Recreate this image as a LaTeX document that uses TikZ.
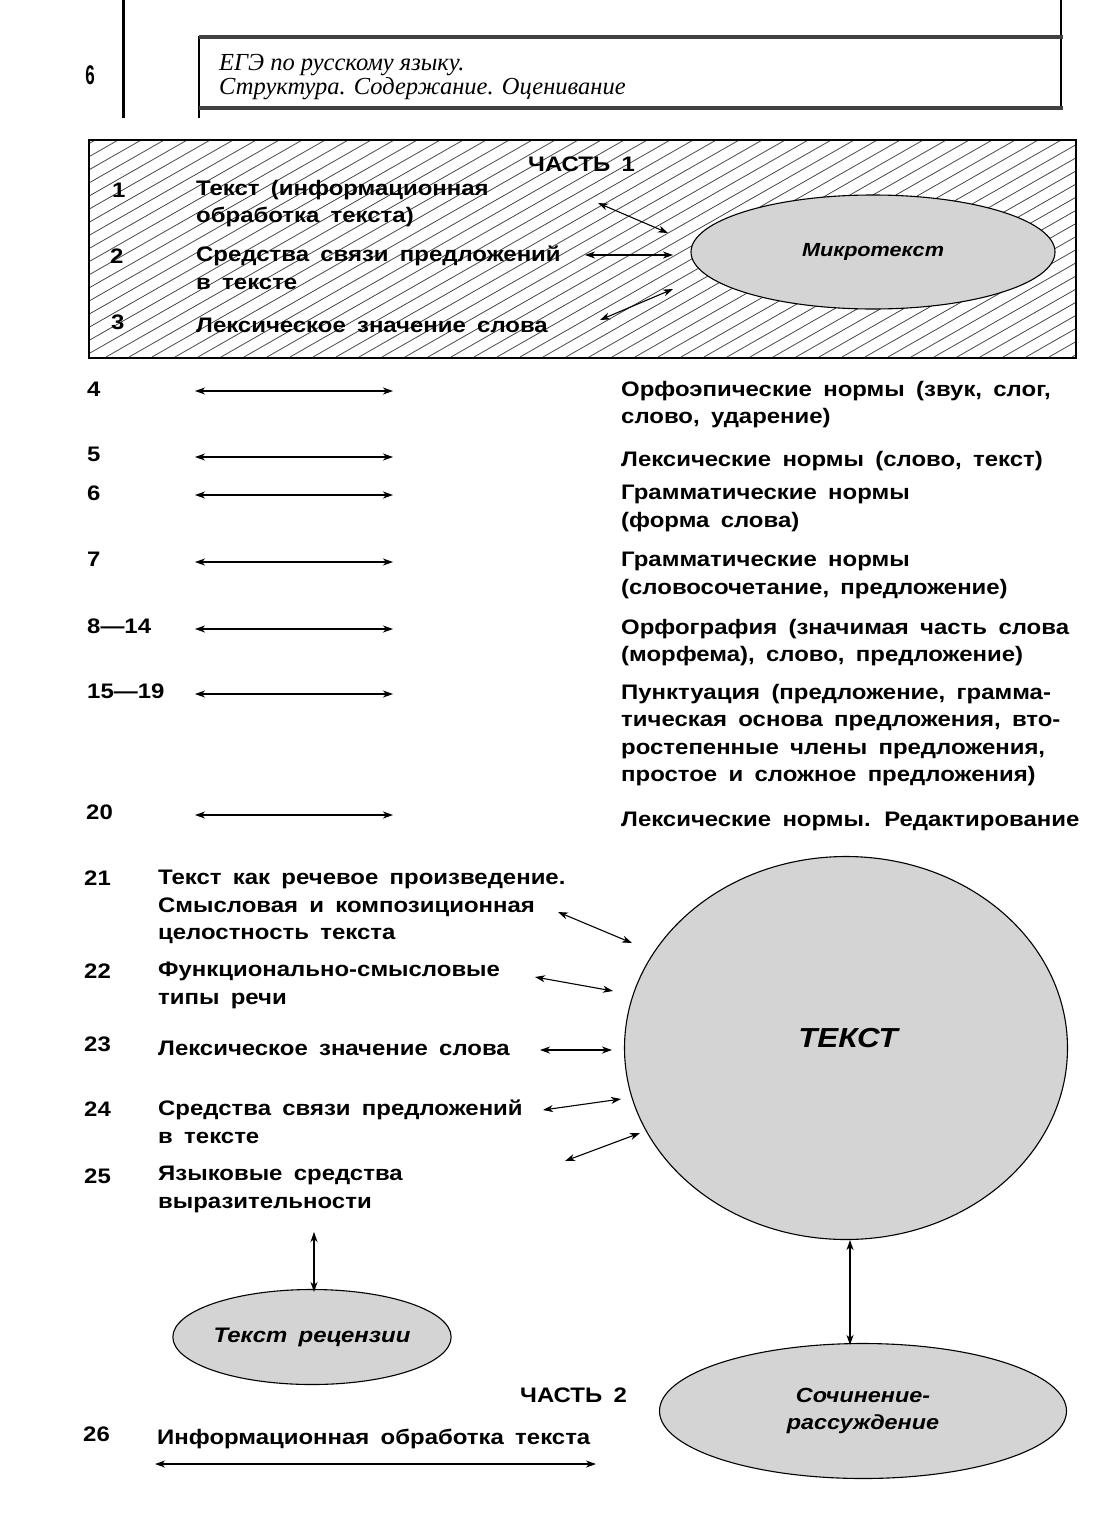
\documentclass[tikz,border=0pt]{standalone}
\usepackage{fontspec}
\setmainfont{Liberation Sans}[FakeStretch=1.14, WordSpace=1.7]
\newfontfamily\hdrfont{Liberation Serif}
\usetikzlibrary{arrows.meta,shapes.geometric}
\newcommand\fstrut{\rule{0pt}{20pt}}
\begin{document}
\begin{tikzpicture}[x=1pt,y=-1pt,
  txt/.style={font=\fontsize{21}{27.5}\selectfont\bfseries, inner sep=0pt, anchor=base west, align=left},
  ml/.style={txt, anchor=north west, yshift=18pt, execute at begin node=\fstrut},
  conn/.style={{Stealth[length=10pt,width=7pt,inset=3pt]}-{Stealth[length=10pt,width=7pt,inset=3pt]}, line width=1.1pt},
  oval/.style={ellipse, draw, line width=1.1pt, fill=black!17, inner sep=0pt, font=\bfseries\itshape, align=center},
  hatch/.style={line width=0.75pt, black!75},
]
\useasboundingbox (0,0) rectangle (1116,1520);
\fill[white] (0,0) rectangle (1116,1520);

% ---------- header ----------
\draw[line width=3pt] (123,0) -- (123,118);
\draw[line width=1.6pt] (199,36) -- (199,118);
\draw[line width=1.6pt] (1061,0) -- (1061,110);
\draw[line width=4pt, black!75] (199,37) -- (1063,37);
\draw[line width=4pt, black!75] (199,108) -- (1063,108);
\node[inner sep=0pt, font=\fontsize{27}{27}\selectfont\bfseries, xscale=0.55] (pagenum) at (90,75) {6};
\node[inner sep=0pt, anchor=north west, yshift=15pt, align=left, execute at begin node=\fstrut,
      font=\hdrfont\fontsize{24.5}{24}\selectfont\itshape] (hdr) at (219,69)
  {ЕГЭ по русскому языку.\\Структура. Содержание. Оценивание};

% ---------- part 1 hatched box ----------
\begin{scope}
  \clip (88,139) rectangle (1075,357);
  \foreach \k in {0,...,90} {
    \draw[hatch] ({-400+\k*23},357) -- ({-400+\k*23+382},139);
  }
\end{scope}
\node[draw, line width=1.8pt, minimum width=987pt, minimum height=218pt, anchor=north west, inner sep=0pt] (part1box) at (88,139) {};

\node[txt] (part1) at (528,171) {ЧАСТЬ 1};
\node[txt] (n1) at (112,197) {1};
\node[txt] (n2) at (110,263) {2};
\node[txt] (n3) at (111,329) {3};
\node[ml] (t1) at (196,198) {Текст (информационная\\обработка текста)};
\node[ml] (t2) at (196,264) {Средства связи предложений\\в тексте};
\node[ml] (t3) at (196,330) {Лексическое значение слова};
\node[oval, minimum width=364pt, minimum height=114pt, font=\fontsize{19}{24}\selectfont\bfseries\itshape] (micro) at (873,252) {Микротекст};

\coordinate (p1a) at (598,203); \coordinate (p1b) at (668,233);
\coordinate (p2a) at (585,255); \coordinate (p2b) at (673,255);
\coordinate (p3a) at (600,320); \coordinate (p3b) at (673,289);
\draw[conn] (p1a) -- (p1b);
\draw[conn] (p2a) -- (p2b);
\draw[conn] (p3a) -- (p3b);

% ---------- rows 4-20 ----------
\node[txt] (n4) at (87,396) {4};
\node[txt] (n5) at (87,461) {5};
\node[txt] (n6) at (87,500) {6};
\node[txt] (n7) at (87,566) {7};
\node[txt] (n8) at (87,633) {8—14};
\node[txt] (n15) at (87,698) {15—19};
\node[txt] (n20) at (86,819) {20};

\node[ml] (r4) at (621,399) {Орфоэпические нормы (звук, слог,\\слово, ударение)};
\node[ml] (r5) at (621,464) {Лексические нормы (слово, текст)};
\node[ml] (r6) at (621,503) {Грамматические нормы\\(форма слова)};
\node[ml] (r7) at (621,570) {Грамматические нормы\\(словосочетание, предложение)};
\node[ml] (r8) at (621,637) {Орфография (значимая часть слова\\(морфема), слово, предложение)};
\node[ml] (r15) at (621,702) {Пунктуация (предложение, грамма-\\тическая основа предложения, вто-\\ростепенные члены предложения,\\простое и сложное предложения)};
\node[ml] (r20) at (621,824) {Лексические нормы. Редактирование};

\foreach \nm/\yy in {4/391,5/457,6/495,7/562,8/629,15/694,20/815} {
  \coordinate (a\nm l) at (195,\yy);
  \coordinate (a\nm r) at (393,\yy);
  \draw[conn] (a\nm l) -- (a\nm r);
}

% ---------- text block 21-25 ----------
\node[txt] (n21) at (84,885) {21};
\node[txt] (n22) at (84,978) {22};
\node[txt] (n23) at (84,1051) {23};
\node[txt] (n24) at (84,1116) {24};
\node[txt] (n25) at (84,1183) {25};
\node[ml] (t21) at (158,888) {Текст как речевое произведение.\\Смысловая и композиционная\\целостность текста};
\node[ml] (t22) at (158,980) {Функционально-смысловые\\типы речи};
\node[ml] (t23) at (158,1053) {Лексическое значение слова};
\node[ml] (t24) at (158,1118) {Средства связи предложений\\в тексте};
\node[ml] (t25) at (158,1184) {Языковые средства\\выразительности};

\node[oval, minimum width=443pt, minimum height=383pt] (tekst) at (846,1048) {};
\node[inner sep=0pt, font=\fontsize{27.5}{30}\selectfont\bfseries\itshape] (tekstlbl) at (848,1038) {ТЕКСТ};

\coordinate (b21a) at (558,912);  \coordinate (b21b) at (632,943);
\coordinate (b22a) at (535,977);  \coordinate (b22b) at (613,991);
\coordinate (b23a) at (540,1050); \coordinate (b23b) at (612,1050);
\coordinate (b24a) at (543,1110); \coordinate (b24b) at (621,1099);
\coordinate (b25a) at (565,1161); \coordinate (b25b) at (640,1133);
\draw[conn] (b21a) -- (b21b);
\draw[conn] (b22a) -- (b22b);
\draw[conn] (b23a) -- (b23b);
\draw[conn] (b24a) -- (b24b);
\draw[conn] (b25a) -- (b25b);

\node[oval, minimum width=272pt, minimum height=95pt, font=\fontsize{21}{24}\selectfont\bfseries\itshape] (recenz) at (312,1337) {Текст рецензии};
\coordinate (c25) at (314,1232);
\draw[conn] (c25) -- ([yshift=-3pt]c25 |- recenz.north);

\node[oval, minimum width=407pt, minimum height=135pt, font=\fontsize{20.5}{27}\selectfont\bfseries\itshape] (soch) at (863,1411) {Сочинение-\\рассуждение};
\draw[conn] ([xshift=4pt]tekst.south) -- ([xshift=4pt, yshift=-2pt]tekst.south |- soch.north);

% ---------- part 2 ----------
\node[txt] (part2) at (520,1402) {ЧАСТЬ 2};
\node[txt] (n26) at (83,1441) {26};
\node[ml] (t26) at (157,1442) {Информационная обработка текста};
\coordinate (d26a) at (155,1464); \coordinate (d26b) at (596,1464);
\draw[conn] (d26a) -- (d26b);
\end{tikzpicture}
\end{document}
